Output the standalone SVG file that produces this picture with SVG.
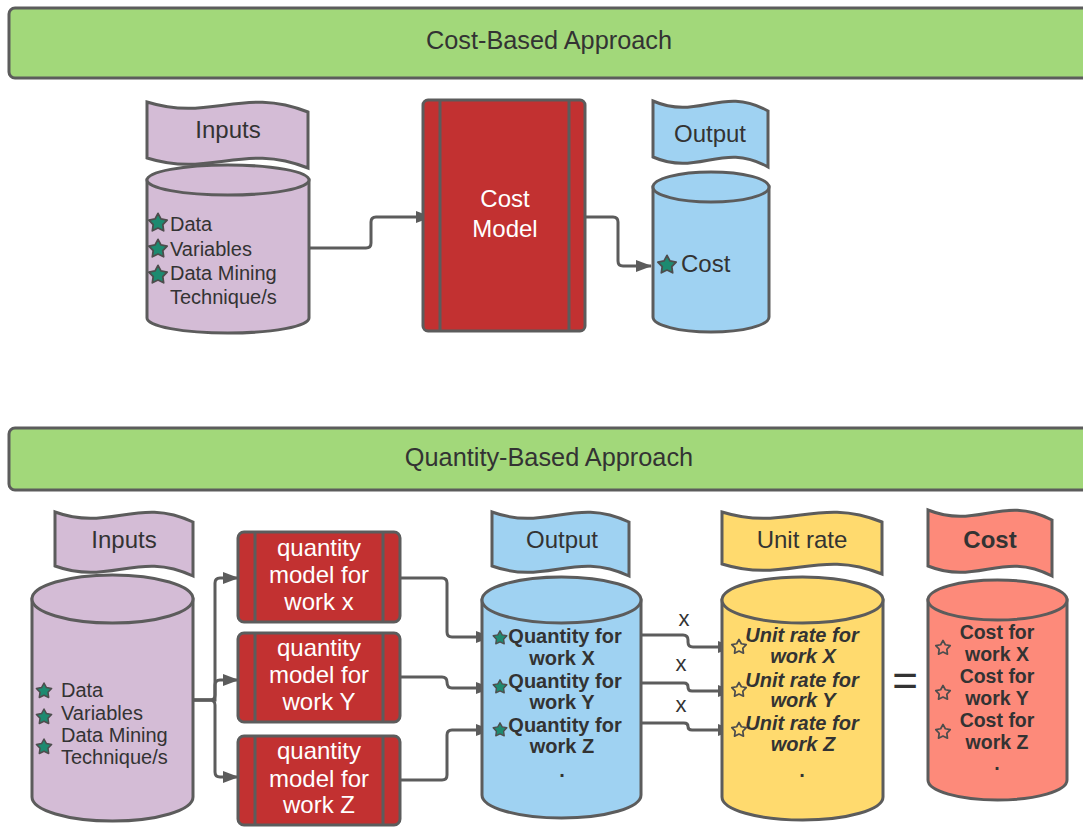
<svg xmlns="http://www.w3.org/2000/svg" width="1083" height="827" viewBox="0 0 1083 827">
  <style>
    .ln { stroke: #5c5c5c; stroke-width: 3; }
    .banner { fill: #a2d87a; stroke: #5c5c5c; stroke-width: 3; }
    .purple { fill: #d4bcd6; }
    .blue { fill: #9fd2f2; }
    .yellow { fill: #ffda6e; }
    .salmon { fill: #fd8a7a; }
    .red { fill: #c23131; }
    .t { font-family: "Liberation Sans", Arial, sans-serif; fill: #333333; }
    .w { fill: #ffffff; }
    .b { font-weight: bold; }
    .i { font-style: italic; }
    .mid { text-anchor: middle; }
    .conn { fill: none; stroke: #5c5c5c; stroke-width: 3; }
    .starg { fill: #1d8a70; stroke: #4d4d4d; stroke-width: 1.5; stroke-linejoin: round; }
    .staro { stroke: #4d4d4d; stroke-width: 1.8; stroke-linejoin: round; }
  </style>
  <defs>
    <marker id="arrow" viewBox="0 0 16 12" refX="15" refY="6" markerWidth="16" markerHeight="12" markerUnits="userSpaceOnUse" orient="auto">
      <path d="M0,0 L16,6 L0,12 Z" fill="#5c5c5c"/>
    </marker>
    <path id="star" d="M0,-8 L2.47,-3.4 L7.61,-2.47 L3.99,1.3 L4.7,6.47 L0,4.2 L-4.7,6.47 L-3.99,1.3 L-7.61,-2.47 L-2.47,-3.4 Z"/>
  </defs>

  <!-- section banners -->
  <g id="banner-cost">
    <rect class="banner" x="9" y="8" width="1090" height="70" rx="6"/>
    <text class="t mid" x="549" y="49" font-size="25.3">Cost-Based Approach</text>
  </g>
  <g id="banner-quantity">
    <rect class="banner" x="9" y="428" width="1090" height="62" rx="6"/>
    <text class="t mid" x="549" y="466" font-size="25.3">Quantity-Based Approach</text>
  </g>

  <!-- connectors -->
  <g id="connectors">
    <path class="conn" marker-end="url(#arrow)" d="M309,248 L366,248 Q371,248 371,243 L371,222 Q371,217 376,217 L431,217"/>
    <path class="conn" marker-end="url(#arrow)" d="M585,217 L613,217 Q618,217 618,222 L618,261 Q618,266 623,266 L651,266"/>

    <path class="conn" marker-end="url(#arrow)" d="M193,700 L210,700 Q215,700 215,695 L215,583 Q215,578 220,578 L238,578"/>
    <path class="conn" marker-end="url(#arrow)" d="M193,700 L215,700 L215,685 Q215,680 220,680 L238,680"/>
    <path class="conn" marker-end="url(#arrow)" d="M193,700 L210,700 Q215,700 215,705 L215,772 Q215,777 220,777 L238,777"/>

    <path class="conn" marker-end="url(#arrow)" d="M400,578 L442,578 Q447,578 447,583 L447,632 Q447,637 452,637 L491,637"/>
    <path class="conn" marker-end="url(#arrow)" d="M400,677 L442,677 Q447,677 447,682 Q447,688 452,688 L491,688"/>
    <path class="conn" marker-end="url(#arrow)" d="M400,780 L442,780 Q447,780 447,775 L447,735 Q447,730 452,730 L491,730"/>

    <path class="conn" marker-end="url(#arrow)" d="M641,635 L683,635 Q688,635 688,640 L688,642 Q688,647 693,647 L733,647"/>
    <path class="conn" marker-end="url(#arrow)" d="M641,683 L684,683 Q688,683 688,687 Q688,691 692,691 L733,691"/>
    <path class="conn" marker-end="url(#arrow)" d="M641,723 L684,723 Q688,723 688,726.5 Q688,730 692,730 L733,730"/>
  </g>

  <!-- cost-based: inputs store -->
  <g id="cb-inputs">
    <path class="purple ln" d="M147,180 L147,318 A81,15 0 0 0 309,318 L309,180 Z"/>
    <ellipse class="purple ln" cx="228" cy="180" rx="81" ry="15"/>
    <path class="purple ln" d="M147,102 C211,122 243,86 308,112 L308,168 C243,142 211,178 147,158 Z"/>
    <text class="t mid" x="228" y="138" font-size="24">Inputs</text>
    <use href="#star" class="starg" transform="translate(158,223) scale(1.2)"/>
    <use href="#star" class="starg" transform="translate(158,249) scale(1.2)"/>
    <use href="#star" class="starg" transform="translate(158,275) scale(1.2)"/>
    <text class="t" x="170" y="231" font-size="20">Data</text>
    <text class="t" x="170" y="256" font-size="20">Variables</text>
    <text class="t" x="170" y="280" font-size="20">Data Mining</text>
    <text class="t" x="170" y="304" font-size="20">Technique/s</text>
  </g>

  <!-- cost-based: model -->
  <g id="cb-model">
    <rect class="red ln" x="423" y="100" width="162" height="231" rx="5"/>
    <line class="ln" x1="440" y1="100" x2="440" y2="331"/>
    <line class="ln" x1="569" y1="100" x2="569" y2="331"/>
    <text class="t w mid" x="505" y="207" font-size="24">Cost</text>
    <text class="t w mid" x="505" y="237" font-size="24">Model</text>
  </g>

  <!-- cost-based: output store -->
  <g id="cb-output">
    <path class="blue ln" d="M653,187 L653,317 A58,15 0 0 0 769,317 L769,187 Z"/>
    <ellipse class="blue ln" cx="711" cy="187" rx="58" ry="15"/>
    <path class="blue ln" d="M653,101 C699,121 722,85 768,111 L768,167 C722,141 699,177 653,157 Z"/>
    <text class="t mid" x="710" y="142" font-size="24">Output</text>
    <use href="#star" class="starg" transform="translate(667,265) scale(1.2)"/>
    <text class="t" x="681" y="272" font-size="24">Cost</text>
  </g>

  <!-- quantity-based: inputs store -->
  <g id="qb-inputs">
    <path class="purple ln" d="M32,599 L32,797 A80.5,24 0 0 0 193,797 L193,599 Z"/>
    <ellipse class="purple ln" cx="112.5" cy="599" rx="80.5" ry="24"/>
    <path class="purple ln" d="M55,512 C110,532 138,496 193,522 L193,576 C138,550 110,586 55,566 Z"/>
    <text class="t mid" x="124" y="548" font-size="24">Inputs</text>
    <use href="#star" class="starg" transform="translate(44,691)"/>
    <use href="#star" class="starg" transform="translate(44,717)"/>
    <use href="#star" class="starg" transform="translate(44,747)"/>
    <text class="t" x="61" y="697" font-size="20">Data</text>
    <text class="t" x="61" y="720" font-size="20">Variables</text>
    <text class="t" x="61" y="742" font-size="20">Data Mining</text>
    <text class="t" x="61" y="764" font-size="20">Technique/s</text>
  </g>

  <!-- quantity models -->
  <g id="qmodel-x">
    <rect class="red ln" x="238" y="532" width="162" height="90" rx="6"/>
    <line class="ln" x1="255" y1="532" x2="255" y2="622"/>
    <line class="ln" x1="383" y1="532" x2="383" y2="622"/>
    <text class="t w mid" x="319" y="556" font-size="24">quantity</text>
    <text class="t w mid" x="319" y="583" font-size="24">model for</text>
    <text class="t w mid" x="319" y="610" font-size="24">work x</text>
  </g>
  <g id="qmodel-y">
    <rect class="red ln" x="238" y="633" width="162" height="89" rx="6"/>
    <line class="ln" x1="255" y1="633" x2="255" y2="722"/>
    <line class="ln" x1="383" y1="633" x2="383" y2="722"/>
    <text class="t w mid" x="319" y="656" font-size="24">quantity</text>
    <text class="t w mid" x="319" y="683" font-size="24">model for</text>
    <text class="t w mid" x="319" y="710" font-size="24">work Y</text>
  </g>
  <g id="qmodel-z">
    <rect class="red ln" x="238" y="736" width="162" height="89" rx="6"/>
    <line class="ln" x1="255" y1="736" x2="255" y2="825"/>
    <line class="ln" x1="383" y1="736" x2="383" y2="825"/>
    <text class="t w mid" x="319" y="759" font-size="24">quantity</text>
    <text class="t w mid" x="319" y="787" font-size="24">model for</text>
    <text class="t w mid" x="319" y="813" font-size="24">work Z</text>
  </g>

  <!-- quantity-based: output store -->
  <g id="qb-output">
    <path class="blue ln" d="M482,600 L482,795 A79.5,23 0 0 0 641,795 L641,600 Z"/>
    <ellipse class="blue ln" cx="561.5" cy="600" rx="79.5" ry="23"/>
    <path class="blue ln" d="M492,512 C547,532 574,496 629,522 L629,576 C574,550 547,586 492,566 Z"/>
    <text class="t mid" x="562" y="548" font-size="24">Output</text>
    <use href="#star" class="starg" transform="translate(500,638) scale(0.9)"/>
    <use href="#star" class="starg" transform="translate(500,687) scale(0.9)"/>
    <use href="#star" class="starg" transform="translate(500,730) scale(0.9)"/>
    <text class="t b mid" x="565" y="643" font-size="20">Quantity for</text>
    <text class="t b mid" x="562" y="665" font-size="20">work X</text>
    <text class="t b mid" x="565" y="688" font-size="20">Quantity for</text>
    <text class="t b mid" x="562" y="709" font-size="20">work Y</text>
    <text class="t b mid" x="565" y="732" font-size="20">Quantity for</text>
    <text class="t b mid" x="562" y="753" font-size="20">work Z</text>
    <text class="t b mid" x="562" y="777" font-size="20">.</text>
  </g>

  <!-- multiplication signs -->
  <g id="times">
    <text class="t mid" x="684" y="626" font-size="22">x</text>
    <text class="t mid" x="681" y="671" font-size="22">x</text>
    <text class="t mid" x="681" y="712" font-size="22">x</text>
  </g>

  <!-- unit rate store -->
  <g id="unit-rate">
    <path class="yellow ln" d="M722,600 L722,797 A80.5,23 0 0 0 883,797 L883,600 Z"/>
    <ellipse class="yellow ln" cx="802.5" cy="600" rx="80.5" ry="23"/>
    <path class="yellow ln" d="M722,512 C786,532 818,496 882,522 L882,574 C818,548 786,584 722,564 Z"/>
    <text class="t mid" x="802" y="548" font-size="24">Unit rate</text>
    <use href="#star" class="yellow staro" transform="translate(739,647) scale(0.95)"/>
    <use href="#star" class="yellow staro" transform="translate(739,690) scale(0.95)"/>
    <use href="#star" class="yellow staro" transform="translate(739,730) scale(0.95)"/>
    <text class="t b i mid" x="802" y="642" font-size="20">Unit rate for</text>
    <text class="t b i mid" x="803" y="663" font-size="20">work X</text>
    <text class="t b i mid" x="802" y="687" font-size="20">Unit rate for</text>
    <text class="t b i mid" x="803" y="707" font-size="20">work Y</text>
    <text class="t b i mid" x="802" y="730" font-size="20">Unit rate for</text>
    <text class="t b i mid" x="803" y="751" font-size="20">work Z</text>
    <text class="t b mid" x="802" y="777" font-size="20">.</text>
  </g>

  <!-- equals sign -->
  <text id="equals" class="t mid" x="905" y="696" font-size="44">=</text>

  <!-- cost store -->
  <g id="cost">
    <path class="salmon ln" d="M928,600 L928,780 A69.5,20 0 0 0 1067,780 L1067,600 Z"/>
    <ellipse class="salmon ln" cx="997.5" cy="600" rx="69.5" ry="20"/>
    <path class="salmon ln" d="M928,510 C978,530 1002,494 1052,520 L1052,576 C1002,550 978,586 928,566 Z"/>
    <text class="t b mid" x="990" y="548" font-size="24">Cost</text>
    <use href="#star" class="salmon staro" transform="translate(943,648) scale(0.95)"/>
    <use href="#star" class="salmon staro" transform="translate(943,693) scale(0.95)"/>
    <use href="#star" class="salmon staro" transform="translate(943,732) scale(0.95)"/>
    <text class="t b mid" x="997" y="639" font-size="19.5">Cost for</text>
    <text class="t b mid" x="997" y="661" font-size="19.5">work X</text>
    <text class="t b mid" x="997" y="683" font-size="19.5">Cost for</text>
    <text class="t b mid" x="997" y="705" font-size="19.5">work Y</text>
    <text class="t b mid" x="997" y="727" font-size="19.5">Cost for</text>
    <text class="t b mid" x="997" y="749" font-size="19.5">work Z</text>
    <text class="t b mid" x="997" y="770" font-size="19.5">.</text>
  </g>
</svg>
